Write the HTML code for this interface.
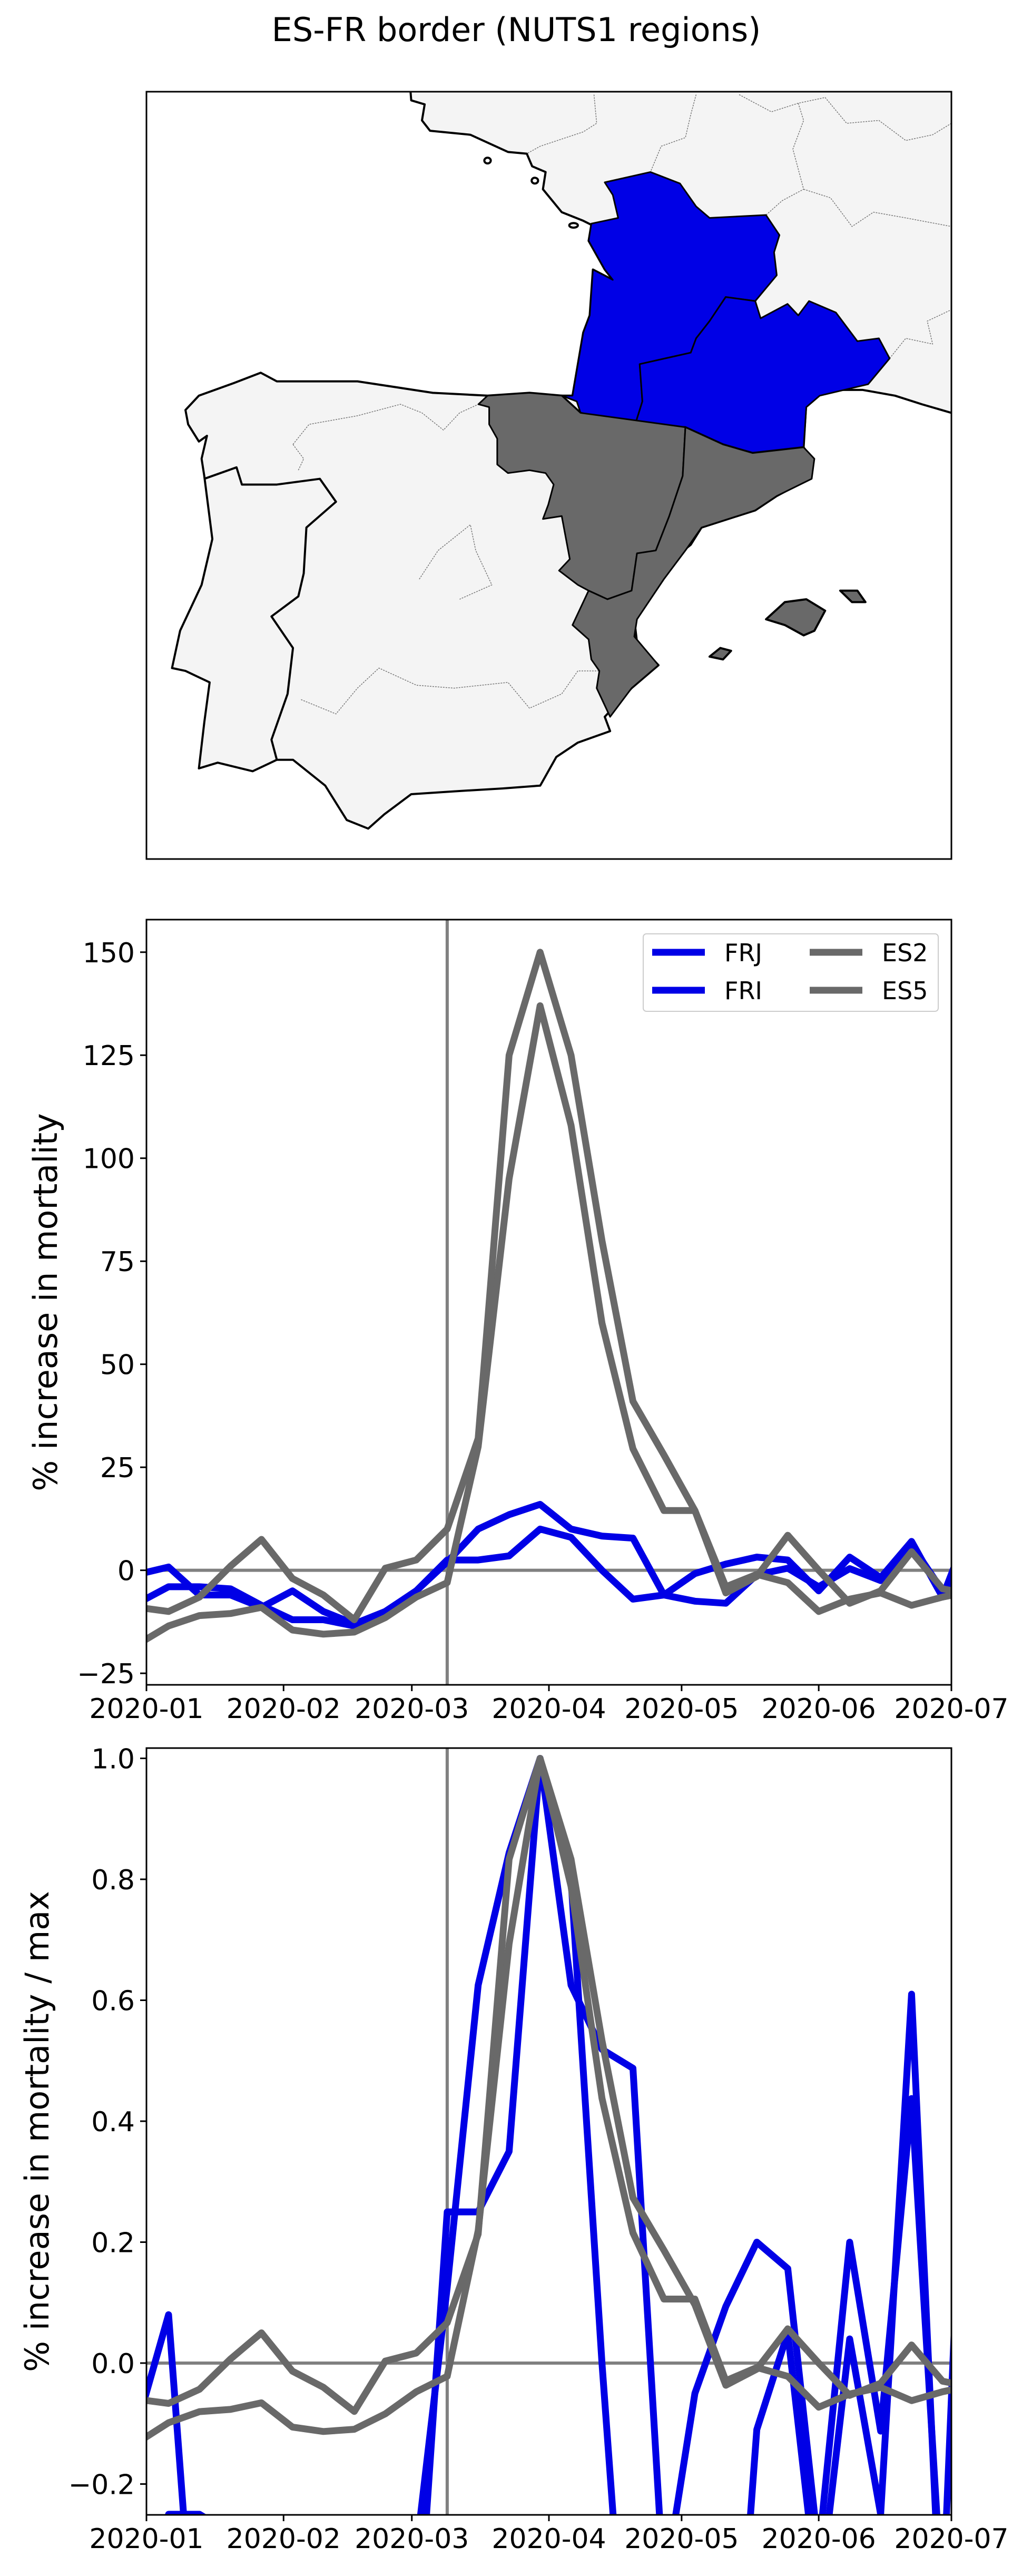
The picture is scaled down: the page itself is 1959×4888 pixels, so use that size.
<!DOCTYPE html>
<html><head><meta charset="utf-8">
<style>
html,body{margin:0;padding:0;background:#fff;width:1959px;height:4888px;overflow:hidden;}
svg{display:block;}
text{font-family:"DejaVu Sans","Liberation Sans",sans-serif;fill:#000;}
</style></head>
<body>
<svg id="fig" xmlns="http://www.w3.org/2000/svg" width="1959" height="4888" viewBox="0 0 1959 4888">
<text x="980" y="78" font-size="62" text-anchor="middle">ES-FR border (NUTS1 regions)</text>

<g>
<defs><clipPath id="mapclip"><rect x="278" y="174" width="1528" height="1456"/></clipPath></defs>
<rect x="278" y="174" width="1528" height="1456" fill="#fff"/>
<g clip-path="url(#mapclip)">
<g transform="translate(250,0) scale(1.0204,1.0881)" stroke="#000" stroke-linejoin="round">
<polygon fill="#f4f4f4" stroke-width="4" vector-effect="non-scaling-stroke" points="517,140 520,175 545,182 540,210 555,228 630,235 700,265 735,268 745,290 770,300 765,330 800,370 840,385 855,392 850,420 880,470 895,488 858,470 852,550 840,580 820,690 800,690 835,720 930,745 1030,745 1100,775 1155,790 1250,780 1255,700 1290,680 1360,680 1420,690 1470,705 1525,720 1560,720 1560,140"/>
<g fill="none" stroke="#777" stroke-width="1.5" stroke-dasharray="3,2">
<polyline vector-effect="non-scaling-stroke" points="860,165 865,215 840,230 760,255 735,268"/>
<polyline vector-effect="non-scaling-stroke" points="1050,165 1040,200 1030,240 985,255 965,300"/>
<polyline vector-effect="non-scaling-stroke" points="1130,165 1190,195 1240,180 1290,170 1330,215 1390,210 1440,245 1490,235 1525,215"/>
<polyline vector-effect="non-scaling-stroke" points="1240,180 1250,210 1230,260 1250,330 1210,350 1180,375"/>
<polyline vector-effect="non-scaling-stroke" points="1250,330 1300,345 1340,395 1380,370 1440,380 1525,395"/>
<polyline vector-effect="non-scaling-stroke" points="1410,625 1440,590 1490,600 1480,560 1525,540"/>
</g>
<polygon fill="#0000e6" stroke-width="3" vector-effect="non-scaling-stroke" points="880,318 965,300 1020,320 1050,360 1075,380 1180,375 1205,410 1195,440 1200,480 1160,525 1105,518 1075,560 1050,590 1040,615 945,635 950,700 935,745 835,720 828,700 800,690 820,690 840,580 852,550 858,470 895,488 880,470 850,420 855,390 905,380 895,340"/>
<polygon fill="#0000e6" stroke-width="3" vector-effect="non-scaling-stroke" points="1105,518 1160,525 1170,555 1220,530 1240,550 1260,525 1310,545 1350,595 1390,590 1410,625 1370,670 1280,690 1255,710 1250,780 1155,790 1100,775 1030,745 935,745 950,700 945,635 1040,615 1050,590 1075,560"/>
<polygon fill="#f4f4f4" stroke-width="4" vector-effect="non-scaling-stroke" points="662,690 560,685 420,665 270,665 240,650 190,668 125,690 100,715 105,740 125,770 140,760 130,800 135,830 150,940 130,1020 90,1100 75,1165 100,1170 145,1190 135,1260 125,1340 160,1330 225,1345 270,1325 300,1325 360,1370 400,1430 440,1445 470,1420 520,1385 600,1380 690,1375 760,1370 790,1320 830,1295 890,1275 880,1250 930,1200 980,1160 940,1120 935,1080 960,1035 1000,980 1040,950 1060,920 1160,890 1200,865 1260,835 1265,800 1250,780 1155,790 1100,775 1030,745 935,745 835,720 800,690 740,685"/>
<polyline fill="none" stroke-width="4" vector-effect="non-scaling-stroke" points="135,835 195,815 205,845 270,845 350,835 380,875 325,920 320,1000 310,1040 260,1075 300,1130 290,1210 260,1290 270,1325"/>
<g fill="none" stroke="#777" stroke-width="1.5" stroke-dasharray="3,2">
<polyline vector-effect="non-scaling-stroke" points="300,775 330,740 420,725 500,705 540,720 580,750 610,720 645,705"/>
<polyline vector-effect="non-scaling-stroke" points="300,775 320,800 310,820"/>
<polyline vector-effect="non-scaling-stroke" points="535,1010 570,960 630,915 640,960 670,1020 610,1045"/>
<polyline vector-effect="non-scaling-stroke" points="315,1220 380,1245 420,1200 460,1165 530,1195 600,1200 700,1190 740,1235 800,1210 830,1170 870,1170"/>
</g>
<polygon fill="#696969" stroke-width="3" vector-effect="non-scaling-stroke" points="662,690 740,685 800,690 835,720 1030,745 1025,830 1000,900 975,960 940,965 930,1030 885,1045 850,1030 830,1020 795,995 815,975 800,900 765,905 775,880 785,845 770,825 740,820 700,825 680,810 680,765 665,740 665,710 645,705"/>
<polygon fill="#696969" stroke-width="3" vector-effect="non-scaling-stroke" points="1030,745 1100,775 1155,790 1250,780 1270,800 1265,835 1200,865 1160,890 1060,920 1030,960 990,1010 940,1080 935,1110 980,1160 930,1200 890,1250 865,1200 870,1170 855,1150 850,1115 820,1090 850,1030 885,1045 930,1030 940,965 975,960 1000,900 1025,830"/>
<polygon fill="#696969" stroke-width="4" vector-effect="non-scaling-stroke" points="1180,1080 1215,1050 1255,1045 1290,1065 1270,1100 1250,1108 1215,1090"/>
<polygon fill="#696969" stroke-width="4" vector-effect="non-scaling-stroke" points="1318,1030 1350,1030 1365,1050 1340,1050"/>
<polygon fill="#696969" stroke-width="4" vector-effect="non-scaling-stroke" points="1075,1145 1095,1130 1115,1135 1100,1150"/>
<ellipse cx="662" cy="280" rx="6" ry="5" fill="#fff" stroke-width="4" vector-effect="non-scaling-stroke"/>
<ellipse cx="750" cy="315" rx="6" ry="5" fill="#fff" stroke-width="4" vector-effect="non-scaling-stroke"/>
<ellipse cx="822" cy="393" rx="8" ry="4" fill="#fff" stroke-width="4" vector-effect="non-scaling-stroke"/>
</g>
</g>
<rect x="278" y="174" width="1528" height="1456" fill="none" stroke="#000" stroke-width="3"/>
</g>

<g id="chart1"></g>
<g id="chart2"></g>
</svg>
<script>
const dates = ["2019-12-30","2020-01-06","2020-01-13","2020-01-20","2020-01-27","2020-02-03","2020-02-10","2020-02-17","2020-02-24","2020-03-02","2020-03-09","2020-03-16","2020-03-23","2020-03-30","2020-04-06","2020-04-13","2020-04-20","2020-04-27","2020-05-04","2020-05-11","2020-05-18","2020-05-25","2020-06-01","2020-06-08","2020-06-15","2020-06-22","2020-06-29","2020-07-06"];
const frjValues = [-8,-4,-4,-4.5,-8.5,-12,-12,-13.5,-10,-5,2,10,13.5,16,10,8.3,7.8,-6,-0.8,1.5,3.2,2.5,-5,3.2,-1.8,7,-6.5,13];
const friValues = [-1,0.8,-6,-6,-9,-5,-10,-13,-10,-5,2.5,2.5,3.5,10,8,0,-7,-6,-7.5,-8,-1.1,0.5,-4,0.4,-2.5,6.1,-5,-1.5];
const es2Values = [-9,-10,-6.5,1,7.5,-2,-6,-12,0.5,2.5,10,32,125,150,125,80,41,28,14.5,-5.5,-1.5,8.5,0,-8,-5,4.5,-4.5,-6];
const es5Values = [-18,-13.5,-11,-10.5,-9,-14.5,-15.5,-15,-11.5,-6.5,-3,30,95,137,108,60,29.5,14.5,14.5,-4,-1,-3,-10,-7,-5.5,-8.5,-6.5,-5];
const seriesNames = ["FRJ","FRI","ES2","ES5"];
const xTickLabels = ["2020-01","2020-02","2020-03","2020-04","2020-05","2020-06","2020-07"];
const yTicks1 = [-25,0,25,50,75,100,125,150];
const yTicks2 = [-0.2,0.0,0.2,0.4,0.6,0.8,1.0];
const lockdownDate = "2020-03-09";

const NS = "http://www.w3.org/2000/svg";
const colors = ["#0000e6","#0000e6","#696969","#696969"];
function mk(tag, attrs, parent){const e=document.createElementNS(NS,tag);for(const k in attrs)e.setAttribute(k,attrs[k]);parent.appendChild(e);return e;}
const t0 = Date.UTC(2020,0,1), t1 = Date.UTC(2020,6,1);
function dayMs(s){const p=s.split("-");return Date.UTC(+p[0],+p[1]-1,+p[2]);}

function drawChart(gid, top, bottom, ymin, ymax, yTicks, fmt, ylabel, series, legend, idx){
  const g = document.getElementById(gid);
  const L=278, R=1806;
  const xs = d => L + (dayMs(d)-t0)/(t1-t0)*(R-L);
  const ys = v => bottom - (v-ymin)/(ymax-ymin)*(bottom-top);
  const cp = mk("clipPath",{id:"clip"+idx},g);
  mk("rect",{x:L,y:top,width:R-L,height:bottom-top},cp);
  const plot = mk("g",{"clip-path":"url(#clip"+idx+")"},g);
  
  
  const zl = mk("line",{x1:L,x2:R,y1:ys(0),y2:ys(0),stroke:"#808080","stroke-width":6},plot);
  
  
  const vx = xs(lockdownDate);
  const vl = mk("line",{x1:vx,x2:vx,y1:top,y2:bottom,stroke:"#808080","stroke-width":6},plot);
  
  
  series.forEach((vals,si)=>{
    const pts = vals.map((v,i)=>xs(dates[i]).toFixed(1)+","+ys(v).toFixed(1)).join(" ");
    const pl = mk("polyline",{points:pts,fill:"none",stroke:colors[si],"stroke-width":13,"stroke-linejoin":"round"},plot);
    
    
  });
  const fr = mk("rect",{x:L,y:top,width:R-L,height:bottom-top,fill:"none",stroke:"#000","stroke-width":3},g);
  
  
  yTicks.forEach(v=>{
    const y=ys(v);
    const tk = mk("line",{x1:L-12,x2:L,y1:y,y2:y,stroke:"#000","stroke-width":3},g);
    
    
    const tx = mk("text",{x:L-22,y:y+19,"font-size":52,"text-anchor":"end"},g);
    tx.textContent = fmt(v);
    
    
  });
  xTickLabels.forEach(lab=>{
    const x=xs(lab+"-01");
    const tk = mk("line",{x1:x,x2:x,y1:bottom,y2:bottom+12,stroke:"#000","stroke-width":3},g);
    
    
    const tx = mk("text",{x:x,y:bottom+63,"font-size":52,"text-anchor":"middle"},g);
    tx.textContent = lab;
    
    
  });
  const cy=(top+bottom)/2;
  const yl = mk("text",{x:0,y:0,"font-size":62,"text-anchor":"middle",transform:"translate("+(idx===1?108:92)+","+cy+") rotate(-90)"},g);
  yl.textContent = ylabel;
  
  
  if(legend){
    const lg = mk("g",{},g);
    
    
    mk("rect",{x:1221,y:1772,width:560,height:147,rx:6,fill:"#fff",stroke:"#ccc","stroke-width":2},lg);
    const pos=[[1238,1807],[1238,1879],[1537,1807],[1537,1879]];
    seriesNames.forEach((n,i)=>{
      const [x,y]=pos[i];
      const ln = mk("line",{x1:x,x2:x+100,y1:y,y2:y,stroke:colors[i],"stroke-width":13},lg);
      
      
      const tx = mk("text",{x:x+137,y:y+17,"font-size":46},lg);
      tx.textContent=n;
      
      
    });
  }
}
drawChart("chart1",1745,3197,-27.8,157.9,yTicks1,v=>v<0?"\u2212"+Math.abs(v):String(v),"% increase in mortality",[frjValues,friValues,es2Values,es5Values],true,1);
function norm(a){const m=Math.max(...a);return a.map(v=>v/m);}
drawChart("chart2",3317,4772,-0.251,1.017,yTicks2,v=>v<0?"\u2212"+Math.abs(v).toFixed(1):v.toFixed(1),"% increase in mortality / max",[norm(frjValues),norm(friValues),norm(es2Values),norm(es5Values)],false,2);
</script>
</body></html>
